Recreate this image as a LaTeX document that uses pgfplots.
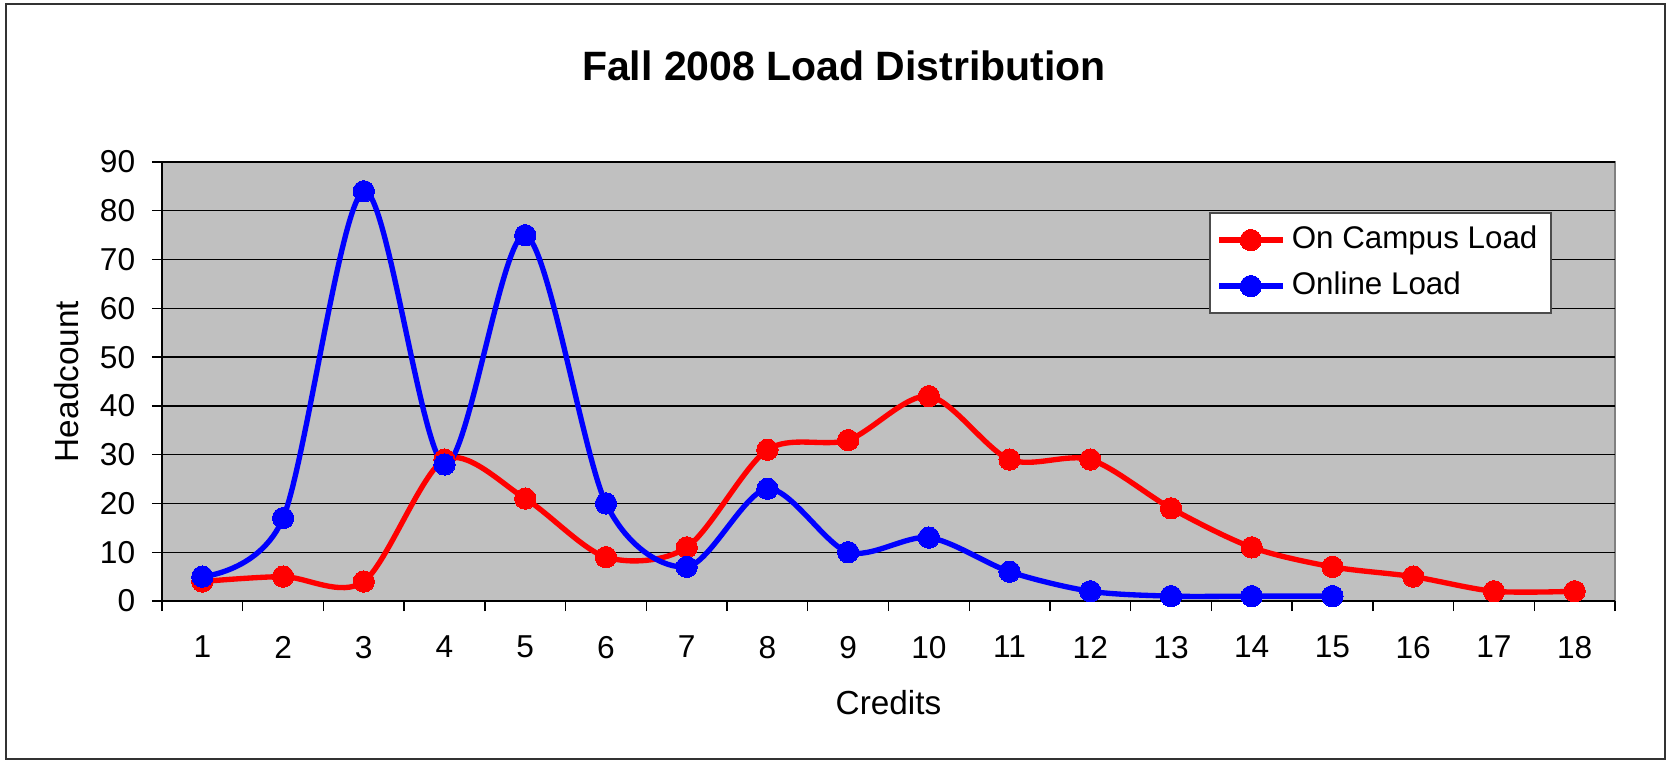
\documentclass[border=0pt]{standalone}
\usepackage{fontspec}
\setmainfont{Liberation Sans}
\usepackage{pgfplots}
\pgfplotsset{compat=1.18}
\definecolor{silverbg}{HTML}{C0C0C0}
\definecolor{frameg}{HTML}{808080}
\begin{document}
\begin{tikzpicture}
\path (-48.6pt,-48.3pt) rectangle (452.4pt,180.3pt);
\draw[line width=0.6pt, black!80] (-46.8pt,-47.4pt) rectangle (450.9pt,179.1pt);
\node[font=\fontsize{12.3}{14}\selectfont\bfseries] at (204.6pt,160.5pt) {Fall 2008 Load Distribution};
\begin{axis}[
  at={(0pt,0pt)}, anchor=south west,
  scale only axis, width=435.9pt, height=131.7pt,
  xmin=0.5, xmax=18.5, ymin=0, ymax=90,
  axis x line*=bottom, axis y line*=left,
  axis line style={black,-,line width=0.6pt},
  axis background/.style={fill=silverbg, draw=frameg, line width=0.7pt},
  xtick={1,...,18},
  minor xtick={0.5,1.5,...,18.5},
  ytick={0,10,...,90},
  tick align=outside,
  major tick length=3pt, minor tick length=3pt,
  major x tick style={draw=none},
  minor x tick style={black, line width=0.4pt},
  major y tick style={black, line width=0.4pt},
  ymajorgrids=true,
  major grid style={black, line width=0.4pt},
  /pgf/number format/assume math mode=true,
  tick label style={font=\fontsize{9.5}{11}\selectfont},
  xticklabel style={yshift=-4pt},
  yticklabel style={xshift=-1.5pt},
  label style={font=\fontsize{9.5}{11}\selectfont},
  xlabel={Credits}, ylabel={Headcount},
  every axis x label/.style={at={(axis description cs:0.5,-0.2323)}, anchor=center},
  every axis y label/.style={at={(axis description cs:-0.0654,0.5)}, rotate=90, anchor=center},
  legend style={at={(axis description cs:0.7206,0.886)}, anchor=north west,
    draw=black!70, fill=white, line width=0.5pt,
    font=\fontsize{9.4}{11}\selectfont, inner xsep=2pt, inner ysep=2pt,
    row sep=1.5pt},
  legend cell align=left,
  legend image code/.code={\draw[mark repeat=2,mark phase=2] plot coordinates {(0pt,0pt) (9.5pt,0pt) (19pt,0pt)};},
]
\addplot[red, line width=1.6pt, smooth, mark=*, mark size=3.2pt, mark options={solid, fill=red, draw=red, line width=0pt}]
  coordinates {(1,4) (2,5) (3,4) (4,29) (5,21) (6,9) (7,11) (8,31) (9,33) (10,42) (11,29) (12,29) (13,19) (14,11) (15,7) (16,5) (17,2) (18,2)};
\addlegendentry{On Campus Load}
\addplot[blue, line width=1.6pt, smooth, mark=*, mark size=3.2pt, mark options={solid, fill=blue, draw=blue, line width=0pt}]
  coordinates {(1,5) (2,17) (3,84) (4,28) (5,75) (6,20) (7,7) (8,23) (9,10) (10,13) (11,6) (12,2) (13,1) (14,1) (15,1)};
\addlegendentry{Online Load}
\end{axis}
\end{tikzpicture}
\end{document}
